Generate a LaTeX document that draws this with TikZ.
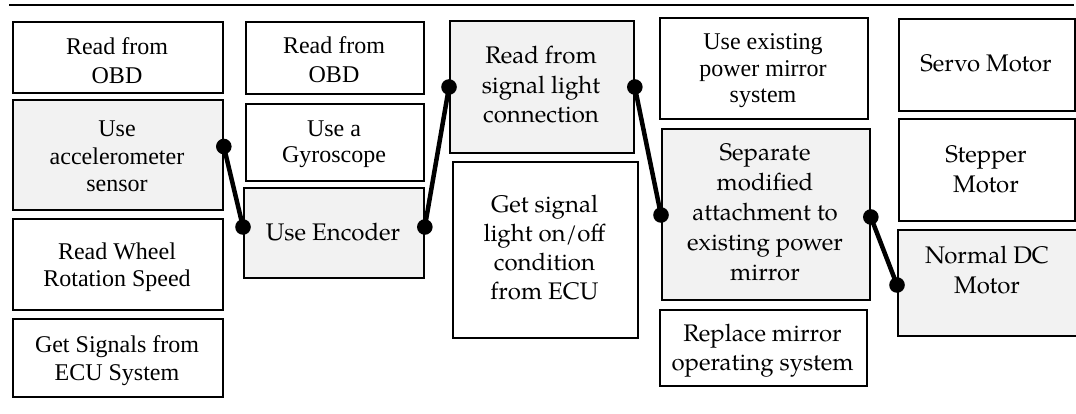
\documentclass[tikz,border=0pt]{standalone}
\usepackage{fontspec}
\setmainfont{Liberation Serif}
\newfontfamily\palfont{TeX Gyre Pagella}
\newcommand\ml[1]{\vtop{\halign{\hfil##\hfil\cr#1\crcr}}}
\tikzset{
  box/.style={draw=black, line width=1.8pt, inner sep=0pt, anchor=north west},
  sel/.style={box, fill=gray!10},
  tnr/.style={font=\fontsize{24}{#1}\selectfont, anchor=base, inner sep=0pt},
  pal/.style={font=\fontsize{24}{#1}\selectfont\palfont, anchor=base, inner sep=0pt},
  conn/.style={line width=4.5pt},
  dot/.style={fill=black}
}
\newcommand\bx[6]{\node[#1, minimum width=#4-#2, minimum height=#5-#3] (#6) at (#2,#3) {};}
\begin{document}
\begin{tikzpicture}[x=1pt,y=-1pt]
\useasboundingbox (0,0) rectangle (1076,414);
\draw[line width=2pt] (9,5) -- (1074,5);
% column 1
\bx{box}{12}{21}{222}{92}{A1}
\bx{sel}{12}{99}{222}{209}{A2}
\bx{box}{12}{218}{222}{309}{A3}
\bx{box}{12}{318}{222}{396}{A4}
% column 2
\bx{box}{245}{21}{423}{93}{B1}
\bx{box}{245}{103}{423}{180}{B2}
\bx{sel}{243}{187}{423}{277}{B3}
% column 3
\bx{sel}{449}{20}{633}{152}{C1}
\bx{box}{452}{161}{637}{337}{C2}
% column 4
\bx{box}{659}{17}{867}{118}{D1}
\bx{sel}{661}{128}{869}{299}{D2}
\bx{box}{659}{309}{866}{385}{D3}
% column 5
\bx{box}{898}{18}{1074}{110}{E1}
\bx{box}{898}{118}{1074}{220}{E2}
\bx{sel}{897}{229}{1080}{335}{E3}
% texts
\node[tnr=29] (A1t) at (117,54.3) {\ml{Read from\cr OBD}};
\node[tnr=27.5] (A2t) at (117,137) {\ml{Use\cr accelerometer\cr sensor}};
\node[tnr=27] (A3t) at (117,259) {\ml{Read Wheel\cr Rotation Speed}};
\node[tnr=28] (A4t) at (117,352) {\ml{Get Signals from\cr ECU System}};
\node[tnr=29] (B1t) at (334,54) {\ml{Read from\cr OBD}};
\node[tnr=26] (B2t) at (334,137) {\ml{Use a\cr Gyroscope}};
\node[pal=29] (B3t) at (333,240.7) {\ml{Use Encoder}};
\node[pal=29.5] (C1t) at (541,64) {\ml{Read from\cr signal light\cr connection}};
\node[pal=29.3] (C2t) at (544.5,212) {\ml{Get signal\cr light on/off\cr condition\cr from ECU}};
\node[tnr=26.3] (D1t) at (763,50) {\ml{Use existing\cr power mirror\cr system}};
\node[pal=30] (D2t) at (765,161) {\ml{Separate\cr modified\cr attachment to\cr existing power\cr mirror}};
\node[pal=28.3] (D3t) at (762.5,341.7) {\ml{Replace mirror\cr operating system}};
\node[pal=30] (E1t) at (986,71.7) {\ml{Servo Motor}};
\node[pal=30] (E2t) at (986,163) {\ml{Stepper\cr Motor}};
\node[pal=30] (E3t) at (987,263) {\ml{Normal DC\cr Motor}};
% connector end points
\coordinate (a2r) at ([yshift=-47.5pt]A2.north east);
\coordinate (b3l) at ([yshift=-40pt]B3.north west);
\coordinate (b3r) at ([yshift=-40pt]B3.north east);
\coordinate (c1l) at ([yshift=-67pt]C1.north west);
\coordinate (c1r) at ([yshift=-67pt]C1.north east);
\coordinate (d2l) at ([yshift=-87pt]D2.north west);
\coordinate (d2r) at ([yshift=-89pt]D2.north east);
\coordinate (e3l) at ([yshift=-56pt]E3.north west);
% connectors
\draw[conn] (a2r) -- (b3l);
\draw[conn] (b3r) -- (c1l);
\draw[conn] (c1r) -- (d2l);
\draw[conn] (d2r) -- (e3l);
\foreach \p in {a2r,b3l,b3r,c1l,c1r,d2l,d2r,e3l}
  \fill[dot] (\p) circle (7.8pt);
\end{tikzpicture}
\end{document}
